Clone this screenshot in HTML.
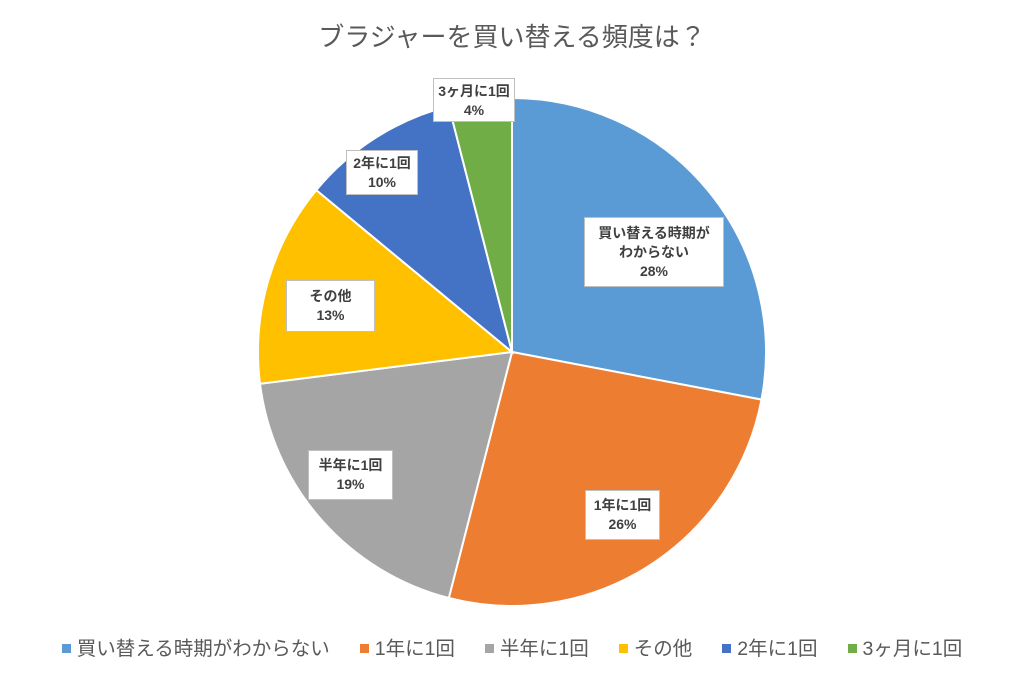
<!DOCTYPE html>
<html><head><meta charset="utf-8"><style>
body{margin:0;background:#fff;width:1024px;height:683px;overflow:hidden;font-family:"Liberation Sans","Noto Sans CJK JP",sans-serif;}
.t{position:absolute;left:0;width:1024px;top:17px;text-align:center;font-size:26px;color:#595959;}
.lb{position:absolute;background:#fff;border:1px solid #bfbfbf;font-weight:bold;font-size:14px;color:#404040;text-align:center;line-height:19px;padding:3px 4px;box-sizing:border-box;white-space:nowrap;}
.lg{position:absolute;top:632px;left:0;width:1024px;text-align:center;font-size:19.5px;color:#595959;white-space:nowrap;}
.lg span.s{display:inline-block;width:9px;height:9px;margin:0 6px 3px 30px;vertical-align:middle;}
</style></head><body>
<div class="t">ブラジャーを買い替える頻度は？</div>
<svg width="1024" height="683" style="position:absolute;left:0;top:0">
<g stroke="#fff" stroke-width="2">
<path d="M512,352 L512,98 A254,254 0 0 1 761.5,399.6 Z" fill="#5b9bd5"/>
<path d="M512,352 L761.5,399.6 A254,254 0 0 1 448.8,598 Z" fill="#ed7d31"/>
<path d="M512,352 L448.8,598 A254,254 0 0 1 260,383.8 Z" fill="#a5a5a5"/>
<path d="M512,352 L260,383.8 A254,254 0 0 1 316.3,190.1 Z" fill="#ffc000"/>
<path d="M512,352 L316.3,190.1 A254,254 0 0 1 448.8,106 Z" fill="#4472c4"/>
<path d="M512,352 L448.8,106 A254,254 0 0 1 512,98 Z" fill="#70ad47"/>
</g></svg>
<div class="lb" style="left:433px;top:78px;width:82px;height:44px">3ヶ月に1回<br>4%</div>
<div class="lb" style="left:346px;top:150px;width:72px;height:45px">2年に1回<br>10%</div>
<div class="lb" style="left:286px;top:280px;width:89px;height:52px;padding-top:6px">その他<br>13%</div>
<div class="lb" style="left:584px;top:217px;width:140px;height:70px;padding-top:6px">買い替える時期が<br>わからない<br>28%</div>
<div class="lb" style="left:585px;top:490px;width:75px;height:50px;padding-top:5px">1年に1回<br>26%</div>
<div class="lb" style="left:308px;top:450px;width:85px;height:50px;padding-top:5px">半年に1回<br>19%</div>
<div class="lg"><span class="s" style="background:#5b9bd5;margin-left:0"></span>買い替える時期がわからない<span class="s" style="background:#ed7d31"></span>1年に1回<span class="s" style="background:#a5a5a5"></span>半年に1回<span class="s" style="background:#ffc000"></span>その他<span class="s" style="background:#4472c4"></span>2年に1回<span class="s" style="background:#70ad47"></span>3ヶ月に1回</div>
</body></html>
